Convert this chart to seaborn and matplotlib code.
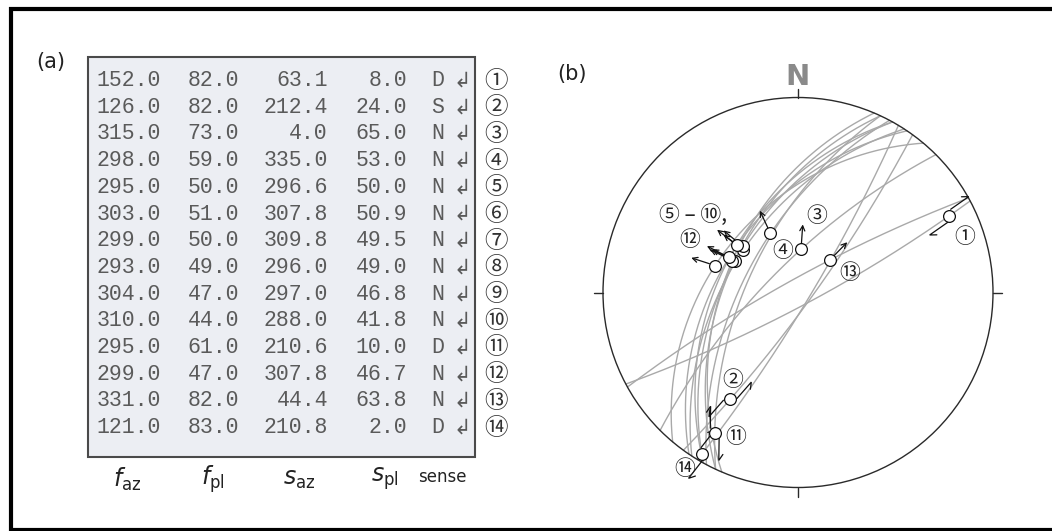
import numpy as np
import pandas as pd
import matplotlib
matplotlib.use("Agg")
import matplotlib.pyplot as plt
from matplotlib.patches import Rectangle, Circle
import seaborn as sns

# Datos de las fallas (tabla a)
f_az = [152.0, 126.0, 315.0, 298.0, 295.0, 303.0, 299.0, 293.0, 304.0, 310.0, 295.0, 299.0, 331.0, 121.0]
f_pl = [82.0, 82.0, 73.0, 59.0, 50.0, 51.0, 50.0, 49.0, 47.0, 44.0, 61.0, 47.0, 82.0, 83.0]
s_az = [63.1, 212.4, 4.0, 335.0, 296.6, 307.8, 309.8, 296.0, 297.0, 288.0, 210.6, 307.8, 44.4, 210.8]
s_pl = [8.0, 24.0, 65.0, 53.0, 50.0, 50.9, 49.5, 49.0, 46.8, 41.8, 10.0, 46.7, 63.8, 2.0]
sense = ['D', 'S', 'N', 'N', 'N', 'N', 'N', 'N', 'N', 'N', 'D', 'N', 'N', 'D']
circled = ['①', '②', '③', '④', '⑤', '⑥', '⑦', '⑧', '⑨', '⑩', '⑪', '⑫', '⑬', '⑭']

sns.set_theme(style="white")
plt.rcParams['mathtext.fontset'] = 'dejavusans'

W, H = 1052, 531
fig = plt.figure(figsize=(W / 100, H / 100), dpi=100)

# capa de fondo en pixeles
bg = fig.add_axes([0, 0, 1, 1])
bg.set_xlim(0, W)
bg.set_ylim(H, 0)
bg.axis('off')

# marco negro
bg.plot([9, W], [9, 9], color='black', lw=3, solid_capstyle='butt')
bg.plot([9, W], [529.5, 529.5], color='black', lw=3, solid_capstyle='butt')
bg.plot([10.5, 10.5], [7, H], color='black', lw=3, solid_capstyle='butt')

# ---- (a) tabla ----
bg.text(51, 62, '(a)', fontsize=15, ha='center', va='center', color='#222222')
bg.add_patch(Rectangle((88, 57), 387, 400, facecolor='#eceef3', edgecolor='#4a4a4a', lw=1.5))

mono = ['Liberation Mono', 'DejaVu Sans Mono', 'DejaVu Sans']
circ_font = ['Noto Sans CJK JP', 'DejaVu Sans']
col_right = [161, 239, 328, 407]
row0, drow = 80.5, 26.7
for i in range(len(f_az)):
    y = row0 + i * drow
    vals = [f_az[i], f_pl[i], s_az[i], s_pl[i]]
    for xr, v in zip(col_right, vals):
        bg.text(xr, y, f'{v:.1f}', family=mono, fontsize=15.5, ha='right', va='center', color='#5a5a5a')
    bg.text(438, y, sense[i], family=mono, fontsize=15.5, ha='center', va='center', color='#5a5a5a')
    bg.text(462, y, '↲', family=['DejaVu Sans'], fontsize=15, ha='center', va='center', color='#5a5a5a')
    bg.text(496, y + 0.5, circled[i], family=circ_font, fontsize=17, ha='center', va='center', color='#333333')

headers = [r'$f_{\mathrm{az}}$', r'$f_{\mathrm{pl}}$', r'$s_{\mathrm{az}}$', r'$s_{\mathrm{pl}}$']
for xc, h in zip([127, 213, 299, 385], headers):
    bg.text(xc, 479, h, fontsize=17, ha='center', va='center', color='#222222')
bg.text(442, 477, 'sense', fontsize=12, ha='center', va='center', color='#222222')

# ---- (b) red estereografica ----
bg.text(572, 74, '(b)', fontsize=15, ha='center', va='center', color='#222222')
bg.text(798, 77, 'N', fontsize=21, fontweight='heavy', ha='center', va='center', color='#8a8a8a')

cx, cy, R = 798, 292.5, 195.0
half = 215
ax = fig.add_axes([(cx - half) / W, (H - cy - half) / H, 2 * half / W, 2 * half / H])
ax.set_xlim(-half / R, half / R)
ax.set_ylim(-half / R, half / R)
ax.set_aspect('equal')
ax.axis('off')
ax.patch.set_alpha(0)
px = 1.0 / R


def project(trend, plunge):
    r = np.tan((np.pi / 2 - plunge) / 2)
    return r * np.sin(trend), r * np.cos(trend)


def vec_to_tp(v):
    v = v / np.linalg.norm(v)
    return np.arctan2(v[0], v[1]), np.arcsin(v[2])


def line_vec(trend_deg, plunge_deg):
    t, p = np.radians(trend_deg), np.radians(plunge_deg)
    return np.array([np.sin(t) * np.cos(p), np.cos(t) * np.cos(p), np.sin(p)])


# circulos mayores
tt = np.linspace(0, np.pi, 200)
rows = []
for k, (dd, dp) in enumerate(zip(f_az, f_pl)):
    st = np.radians(dd - 90)
    d, p = np.radians(dd), np.radians(dp)
    svec = np.array([np.sin(st), np.cos(st), 0.0])
    dvec = np.array([np.sin(d) * np.cos(p), np.cos(d) * np.cos(p), np.sin(p)])
    v = np.outer(np.cos(tt), svec) + np.outer(np.sin(tt), dvec)
    trend = np.arctan2(v[:, 0], v[:, 1])
    plunge = np.arcsin(np.clip(v[:, 2], -1, 1))
    x, y = project(trend, plunge)
    rows.append(pd.DataFrame({'x': x, 'y': y, 'fault': k}))
gc = pd.concat(rows, ignore_index=True)
sns.lineplot(data=gc, x='x', y='y', units='fault', estimator=None, sort=False,
             color='#a9a9a9', lw=1.0, ax=ax, legend=False, zorder=2)

# primitiva y marcas
ax.add_patch(Circle((0, 0), 1.0, fill=False, ec='#2a2a2a', lw=1.0, zorder=3))
tk = 9 * px
for a in [0, 90, 180, 270]:
    s, c = np.sin(np.radians(a)), np.cos(np.radians(a))
    ax.plot([s, s * (1 + tk)], [c, c * (1 + tk)], color='#2a2a2a', lw=1.0, zorder=3)

# estrias
sx, sy = project(np.radians(s_az), np.radians(s_pl))
pts = pd.DataFrame({'x': sx, 'y': sy})

# flechas de sentido
for i in range(len(s_az)):
    P = np.array([sx[i], sy[i]])
    if sense[i] == 'N':
        u = np.array([np.sin(np.radians(s_az[i])), np.cos(np.radians(s_az[i]))])
        ax.annotate('', xy=P + u * 25 * px, xytext=P + u * 6 * px,
                    arrowprops=dict(arrowstyle='->', lw=0.9, color='#111111',
                                    mutation_scale=9, shrinkA=0, shrinkB=0), zorder=5)
    else:
        v = line_vec(s_az[i], s_pl[i])
        d, p = np.radians(f_az[i]), np.radians(f_pl[i])
        nrm = np.array([-np.sin(d) * np.sin(p), -np.cos(d) * np.sin(p), np.cos(p)])
        w = np.cross(nrm, v)
        w /= np.linalg.norm(w)
        cands = [v + 0.02 * w, v - 0.02 * w]
        best = min(cands, key=lambda c: c[2] / np.linalg.norm(c))
        q = np.array(project(*vec_to_tp(best)))
        t = q - P
        t /= np.linalg.norm(t)
        nl = np.array([-t[1], t[0]])
        off = 4.5 * px
        L = 22 * px
        if sense[i] == 'D':
            arrows = [(nl, t), (-nl, -t)]
        else:
            arrows = [(nl, -t), (-nl, t)]
        for side, dr in arrows:
            start = P + side * off + dr * 5 * px
            tip = start + dr * L
            barb = tip - dr * 6 * px + side * 4 * px
            ax.plot([start[0], tip[0], barb[0]], [start[1], tip[1], barb[1]],
                    color='#111111', lw=0.9, zorder=5, solid_joinstyle='miter')

sns.scatterplot(data=pts, x='x', y='y', s=72, color='white', edgecolor='#111111',
                linewidth=0.9, ax=ax, zorder=6, legend=False)

# etiquetas
label_offsets = {0: (16, 21), 1: (3, -19), 2: (16, -33), 3: (12, 18),
                 10: (21, 4), 12: (20, 13), 13: (-17, 15)}
for i, (ox, oy) in label_offsets.items():
    ax.text(sx[i] + ox * px, sy[i] - oy * px, circled[i], family=circ_font, fontsize=15,
            ha='center', va='center', color='#222222', zorder=7)
bg.text(693, 215, '⑤ – ⑩,', family=circ_font, fontsize=15, ha='center', va='center', color='#222222')
bg.text(690, 240, '⑫', family=circ_font, fontsize=15, ha='center', va='center', color='#222222')
ax.set_xlabel('')
ax.set_ylabel('')

fig.savefig('out.png', dpi=100)
